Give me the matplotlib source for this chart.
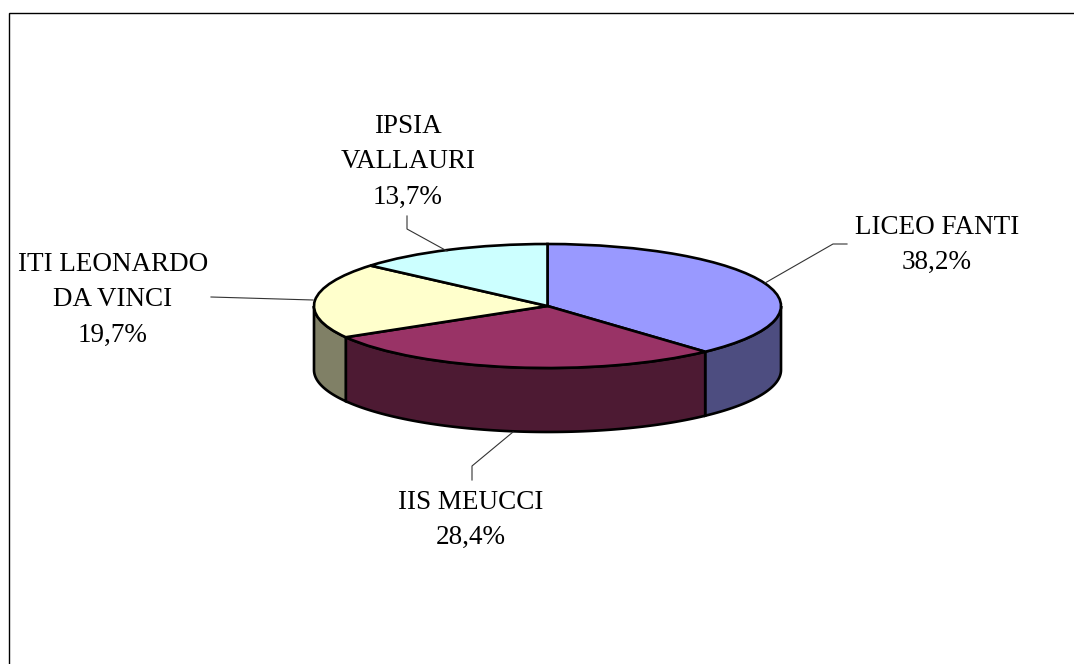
import numpy as np
import matplotlib
matplotlib.use("Agg")
import matplotlib.pyplot as plt

# data, clockwise from the top of the pie
schools = ["LICEO FANTI", "IIS MEUCCI", "ITI LEONARDO\nDA VINCI", "IPSIA\nVALLAURI"]
shares = [38.2, 28.4, 19.7, 13.7]
share_labels = ["38,2%", "28,4%", "19,7%", "13,7%"]
top_colors = ["#9999FF", "#993366", "#FFFFCC", "#CCFFFF"]
side_colors = ["#4D4D80", "#4D1A33", "#808066", "#668080"]

W, H = 1074, 664
cx, cy, rx, ry, depth = 547.5, 306, 233.5, 62, 64

fig = plt.figure(figsize=(W / 100, H / 100), dpi=100, facecolor="white")

# overlay in pixel coords for frame, leaders and text
ax_px = fig.add_axes([0, 0, 1, 1], zorder=2)
ax_px.set_xlim(0, W)
ax_px.set_ylim(H, 0)
ax_px.axis("off")
ax_px.patch.set_alpha(0)

# pie axes: unit circle squashed into the ellipse
ax = fig.add_axes([0, 0, 1, 1], zorder=1)
ax.pie(shares, startangle=90, counterclock=False, colors=top_colors,
       wedgeprops=dict(edgecolor="black", linewidth=1.9, zorder=5))
ax.set_aspect("auto")
ax.set_xlim(-cx / rx, (W - cx) / rx)
ax.set_ylim(-(H - cy) / ry, cy / ry)
ax.axis("off")

# side walls, only the front half of the rim shows
d = depth / ry
edges = np.cumsum([0] + shares) / sum(shares) * 2 * np.pi
for i in range(len(shares)):
    a = max(edges[i], np.pi / 2)
    b = min(edges[i + 1], 3 * np.pi / 2)
    if b <= a:
        continue
    t = np.linspace(a, b, 80)
    x = np.sin(t)
    y = np.cos(t)
    ax.fill(np.r_[x, x[::-1]], np.r_[y, y[::-1] - d], facecolor=side_colors[i],
            edgecolor="black", linewidth=1.9, zorder=3)

# frame, only top and left are in the picture
ax_px.plot([9, 9, W], [H, 12.5, 12.5], color="black", lw=1.0, solid_joinstyle="miter")

# leader lines
leaders = [
    ([765, 833, 847], [283, 244, 244]),
    ([513, 472, 472], [432, 466, 480]),
    ([313, 211], [300, 297]),
    ([447, 407, 407], [251, 229, 216]),
]
for lx, ly in leaders:
    ax_px.plot(lx, ly, color="#333333", lw=0.8)

# labels
font = ["Liberation Serif", "DejaVu Serif"]
label_pos = [(937, 245), (471, 520), (113, 300), (408, 162)]
for name, pct, (tx, ty) in zip(schools, share_labels, label_pos):
    ax_px.text(tx, ty, name + "\n" + pct, ha="center", va="center", family=font,
               fontsize=19.5, color="black", linespacing=1.54, zorder=10)

fig.savefig("out.png", dpi=100)
